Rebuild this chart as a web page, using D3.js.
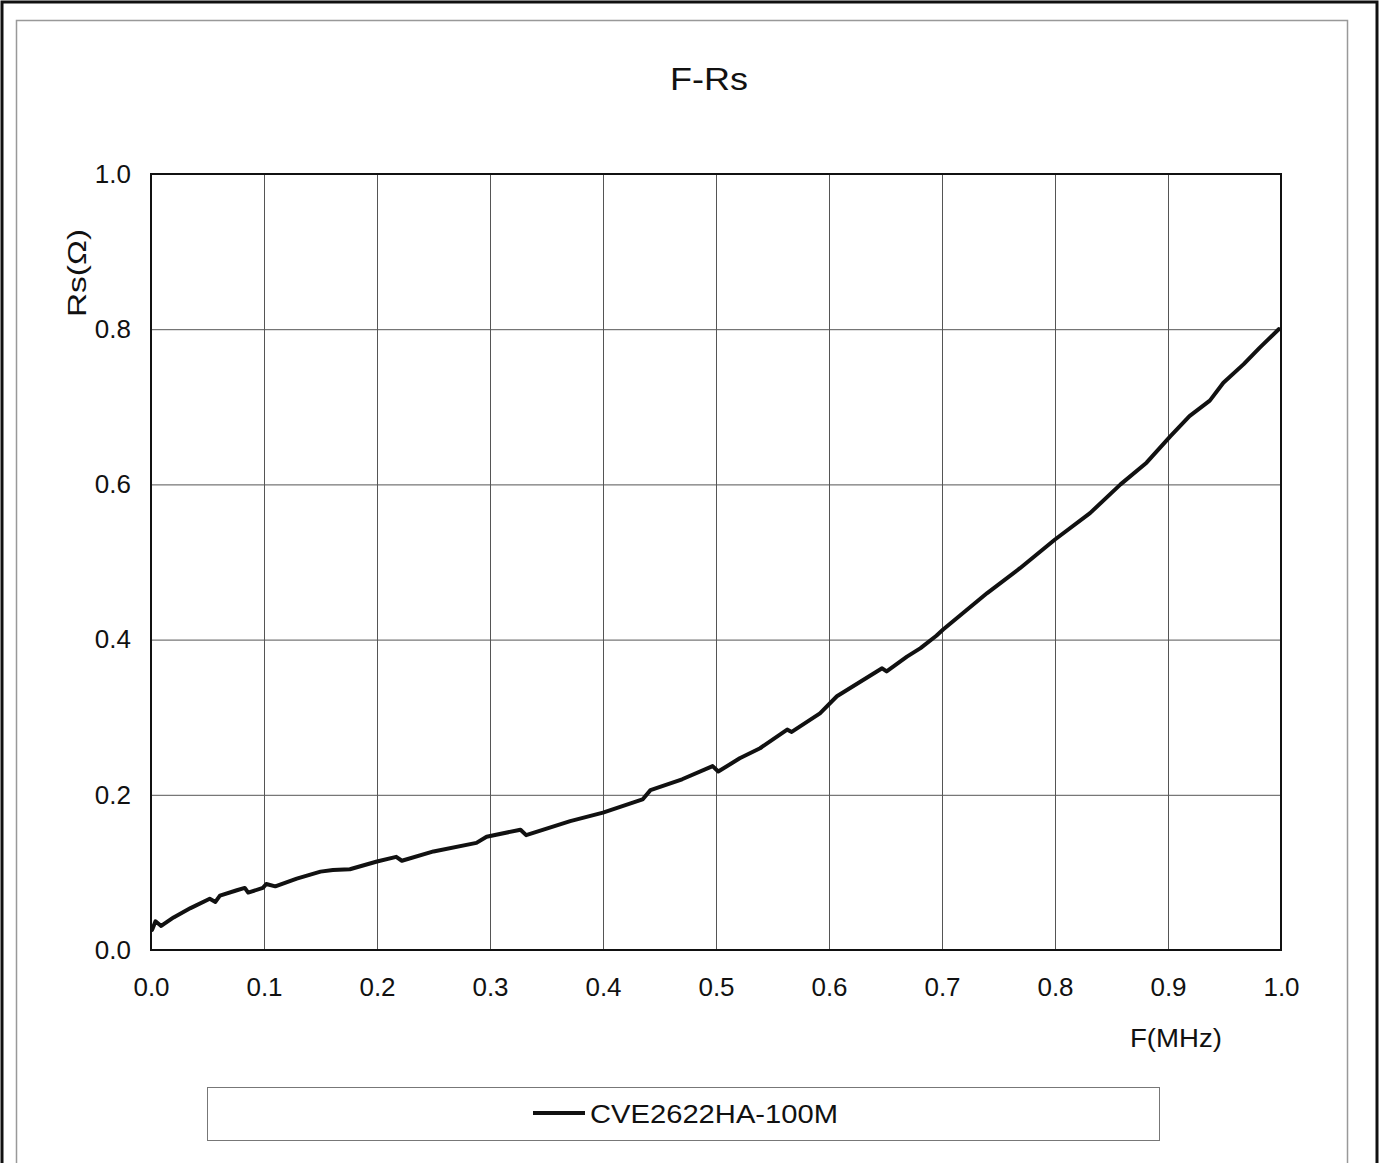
<!DOCTYPE html>
<html>
<head>
<meta charset="utf-8">
<script src="https://cdn.jsdelivr.net/npm/d3@7"></script>
<style>
  html, body { margin: 0; padding: 0; background: #fff; }
  svg { display: block; }
  text { font-family: "Liberation Sans", Arial, sans-serif; fill: #111; }
</style>
</head>
<body>
<svg id="chart" width="1382" height="1163"></svg>
<script>
// ---- data ----
const chartTitle = "F-Rs";
const xAxisTitle = "F(MHz)";
const yAxisTitle = "Rs(Ω)";
const seriesName = "CVE2622HA-100M";
const xTicks = [0.0, 0.1, 0.2, 0.3, 0.4, 0.5, 0.6, 0.7, 0.8, 0.9, 1.0];
const yTicks = [0.0, 0.2, 0.4, 0.6, 0.8, 1.0];
const freqMHz = [0.001, 0.004, 0.009, 0.020, 0.035, 0.052, 0.057, 0.061, 0.076, 0.083, 0.086,
  0.099, 0.102, 0.110, 0.129, 0.150, 0.161, 0.176, 0.200, 0.217, 0.222, 0.250, 0.288,
  0.297, 0.327, 0.332, 0.371, 0.400, 0.435, 0.442, 0.470, 0.497, 0.502, 0.521, 0.539,
  0.563, 0.567, 0.592, 0.607, 0.627, 0.647, 0.651, 0.669, 0.681, 0.695, 0.701, 0.740,
  0.769, 0.800, 0.831, 0.858, 0.881, 0.902, 0.919, 0.937, 0.949, 0.967, 0.981, 0.998];
const rsOhm = [0.026, 0.037, 0.031, 0.042, 0.054, 0.066, 0.062, 0.070, 0.077, 0.080, 0.074,
  0.080, 0.085, 0.082, 0.092, 0.101, 0.103, 0.104, 0.114, 0.120, 0.115, 0.127, 0.138,
  0.146, 0.155, 0.148, 0.166, 0.177, 0.194, 0.206, 0.220, 0.237, 0.230, 0.247, 0.260,
  0.284, 0.281, 0.305, 0.327, 0.345, 0.363, 0.359, 0.378, 0.389, 0.405, 0.413, 0.460,
  0.492, 0.529, 0.563, 0.600, 0.628, 0.662, 0.688, 0.708, 0.731, 0.755, 0.776, 0.800];

const data = freqMHz.map((f, i) => ({ f, r: rsOhm[i] }));

// ---- layout ----
const svg = d3.select("#chart");
const plot = { left: 151, top: 174, right: 1281, bottom: 950 };
const x = d3.scaleLinear().domain([0, 1]).range([plot.left, plot.right]);
const y = d3.scaleLinear().domain([0, 1]).range([plot.bottom, plot.top]);
const FONT = "'Liberation Sans', Arial, sans-serif";

// outer frames
svg.append("rect").attr("x", 2).attr("y", 2).attr("width", 1375).attr("height", 1200)
  .attr("fill", "none").attr("stroke", "#111").attr("stroke-width", 3);
svg.append("rect").attr("x", 16.5).attr("y", 20.5).attr("width", 1331).attr("height", 1200)
  .attr("fill", "none").attr("stroke", "#999").attr("stroke-width", 1.5);

// title
svg.append("text").attr("x", 709).attr("y", 90).attr("text-anchor", "middle")
  .attr("textLength", 78).attr("lengthAdjust", "spacingAndGlyphs")
  .style("font-size", "31px").text(chartTitle);

// gridlines
svg.append("g")
  .attr("transform", `translate(0,${plot.bottom})`)
  .call(d3.axisBottom(x).tickValues(xTicks).tickSize(-(plot.bottom - plot.top)).tickFormat(""))
  .call(g => g.select(".domain").remove())
  .call(g => g.selectAll(".tick line").attr("stroke", "#555").attr("stroke-width", 1));
svg.append("g")
  .attr("transform", `translate(${plot.left},0)`)
  .call(d3.axisLeft(y).tickValues(yTicks).tickSize(-(plot.right - plot.left)).tickFormat(""))
  .call(g => g.select(".domain").remove())
  .call(g => g.selectAll(".tick line").attr("stroke", "#555").attr("stroke-width", 1));

// tick labels
svg.append("g")
  .attr("transform", `translate(0,${plot.bottom})`)
  .call(d3.axisBottom(x).tickValues(xTicks).tickSize(0).tickPadding(28).tickFormat(d3.format(".1f")))
  .call(g => g.select(".domain").remove())
  .call(g => g.selectAll("text").style("font-size", "26px").attr("fill", "#111").style("font-family", FONT));
svg.append("g")
  .attr("transform", `translate(${plot.left},0)`)
  .call(d3.axisLeft(y).tickValues(yTicks).tickSize(0).tickPadding(20).tickFormat(d3.format(".1f")))
  .call(g => g.select(".domain").remove())
  .call(g => g.selectAll("text").style("font-size", "26px").attr("fill", "#111").style("font-family", FONT));

// plot border
svg.append("rect").attr("x", plot.left).attr("y", plot.top)
  .attr("width", plot.right - plot.left).attr("height", plot.bottom - plot.top)
  .attr("fill", "none").attr("stroke", "#111").attr("stroke-width", 2);

// axis titles
svg.append("text").attr("x", 1176).attr("y", 1047).attr("text-anchor", "middle")
  .attr("textLength", 92).attr("lengthAdjust", "spacingAndGlyphs")
  .style("font-size", "26px").text(xAxisTitle);
svg.append("text").attr("transform", "translate(86,273) rotate(-90)").attr("text-anchor", "middle")
  .attr("textLength", 88).attr("lengthAdjust", "spacingAndGlyphs")
  .style("font-size", "26px").text(yAxisTitle);

// series line
const line = d3.line().x(d => x(d.f)).y(d => y(d.r)).curve(d3.curveLinear);
svg.append("path").datum(data).attr("d", line)
  .attr("fill", "none").attr("stroke", "#111").attr("stroke-width", 4)
  .attr("stroke-linejoin", "round").attr("stroke-linecap", "round");

// legend
svg.append("rect").attr("x", 207.5).attr("y", 1087.5).attr("width", 952).attr("height", 53)
  .attr("fill", "#fff").attr("stroke", "#777").attr("stroke-width", 1);
svg.append("line").attr("x1", 533).attr("x2", 585).attr("y1", 1113).attr("y2", 1113)
  .attr("stroke", "#111").attr("stroke-width", 4);
svg.append("text").attr("x", 590).attr("y", 1123)
  .attr("textLength", 248).attr("lengthAdjust", "spacingAndGlyphs")
  .style("font-size", "26px").text(seriesName);
</script>
</body>
</html>
